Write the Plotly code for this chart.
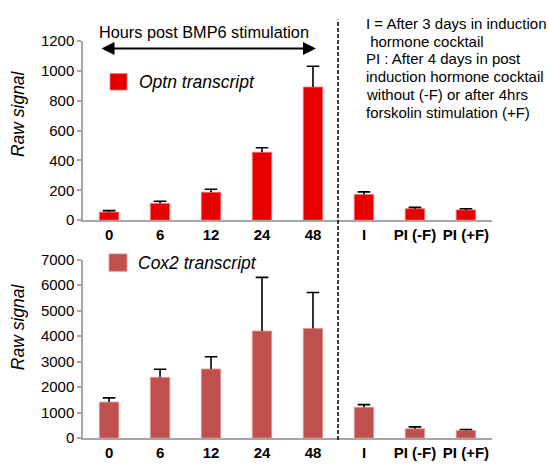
import plotly.graph_objects as go

categories = ["0", "6", "12", "24", "48", "I", "PI (-F)", "PI (+F)"]
optn_values = [54, 112, 187, 455, 892, 172, 77, 69]
optn_err_top = [64, 127, 207, 485, 1032, 190, 86, 77]
cox2_values = [1413, 2384, 2712, 4200, 4301, 1211, 366, 303]
cox2_err_top = [1577, 2699, 3191, 6306, 5714, 1312, 441, 340]

optn_ticks = [0, 200, 400, 600, 800, 1000, 1200]
cox2_ticks = [0, 1000, 2000, 3000, 4000, 5000, 6000, 7000]

note_lines = [
    "I = After 3 days in induction",
    " hormone cocktail",
    "PI : After 4 days in post",
    "induction hormone cocktail",
    "without (-F) or after 4hrs",
    "forskolin stimulation (+F)",
]

FONT = "Liberation Sans, Arial, sans-serif"
W, H = 549, 476

def px(x):
    return x / W

def py(y):
    return (H - y) / H

fig = go.Figure()

def add_panel(values, tops, color, edge, xa, ya):
    fig.add_trace(go.Bar(
        x=categories, y=values, xaxis=xa, yaxis=ya,
        marker=dict(color=color, line=dict(color=edge, width=1)),
        error_y=dict(type="data", symmetric=False,
                     array=[t - v for t, v in zip(tops, values)],
                     arrayminus=[0] * len(values),
                     color="black", thickness=1.6, width=0),
        showlegend=False, hoverinfo="skip",
    ))
    fig.add_trace(go.Scatter(
        x=categories, y=tops, xaxis=xa, yaxis=ya, mode="markers",
        marker=dict(symbol="line-ew", size=9, line=dict(color="black", width=1.6)),
        showlegend=False, hoverinfo="skip",
    ))

add_panel(optn_values, optn_err_top, "#E60000", "rgba(255,110,110,0.8)", "x", "y")
add_panel(cox2_values, cox2_err_top, "#C0504D", "rgba(230,150,150,0.8)", "x2", "y2")

axis_common_x = dict(
    type="category", showline=True, linecolor="#A6A6A6", linewidth=1.5,
    ticks="", showgrid=False, zeroline=False,
    tickfont=dict(family=FONT, size=15, color="black", weight="bold"),
)
axis_common_y = dict(
    showline=True, linecolor="#A6A6A6", linewidth=1.5,
    ticks="outside", ticklen=4, tickcolor="#A6A6A6", tickwidth=1.5,
    showgrid=False, zeroline=False,
    tickfont=dict(family=FONT, size=15, color="black"),
)

xdom = [px(83), px(492)]
fig.update_layout(
    width=W, height=H,
    margin=dict(l=0, r=0, t=0, b=0),
    paper_bgcolor="white", plot_bgcolor="white",
    bargap=0.62,
    xaxis=dict(domain=xdom, anchor="y", **axis_common_x),
    yaxis=dict(domain=[py(219), py(33.3)], range=[0, 1200], anchor="x",
               tickvals=optn_ticks, **axis_common_y),
    xaxis2=dict(domain=xdom, anchor="y2", **axis_common_x),
    yaxis2=dict(domain=[py(445), py(260)], range=[0, 7000], anchor="x2",
                tickvals=cox2_ticks, **axis_common_y),
    font=dict(family=FONT, color="black"),
)

# dashed separator
fig.add_shape(type="line", xref="paper", yref="paper",
              x0=px(338), x1=px(338), y0=py(447), y1=py(11),
              line=dict(color="black", width=1.5, dash="4px,2px"))

# legend squares
fig.add_shape(type="rect", xref="paper", yref="paper",
              x0=px(110), x1=px(127), y0=py(84), y1=py(67),
              fillcolor="#E00000", line=dict(color="rgba(255,110,110,0.8)", width=1))
fig.add_shape(type="rect", xref="paper", yref="paper",
              x0=px(109), x1=px(127), y0=py(272), y1=py(254),
              fillcolor="#C0504D", line=dict(color="rgba(230,150,150,0.8)", width=1))

annotations = [
    dict(text="<i>Optn transcript</i>", x=px(137), y=py(76), xanchor="left", yanchor="middle",
         font=dict(size=17.5)),
    dict(text="<i>Cox2 transcript</i>", x=px(136), y=py(263), xanchor="left", yanchor="middle",
         font=dict(size=17.5)),
    dict(text="<i>Raw signal</i>", x=px(18), y=py(109), textangle=-90,
         xanchor="center", yanchor="middle", font=dict(size=17.5)),
    dict(text="<i>Raw signal</i>", x=px(18), y=py(330), textangle=-90,
         xanchor="center", yanchor="middle", font=dict(size=17.5)),
    dict(text="Hours post BMP6 stimulation", x=px(204), y=py(24),
         xanchor="center", yanchor="middle", font=dict(size=16.3)),
    dict(text="", x=px(316), y=py(41), ax=-216, ay=0, axref="pixel", ayref="pixel",
         showarrow=True, arrowhead=2, arrowside="end+start", arrowsize=1.3,
         arrowwidth=2, arrowcolor="black"),
]
line_y = [15, 33.4, 51.8, 70.4, 88.8, 107]
for txt, yy in zip(note_lines, line_y):
    annotations.append(dict(text=txt.replace(" ", "&nbsp;", 1) if txt.startswith(" ") else txt,
                            x=px(364), y=py(yy), xanchor="left", yanchor="middle",
                            font=dict(size=15)))

for a in annotations:
    a.setdefault("xref", "paper")
    a.setdefault("yref", "paper")
    a.setdefault("showarrow", False)
    fig.add_annotation(**a)

fig.write_html("out.html")
